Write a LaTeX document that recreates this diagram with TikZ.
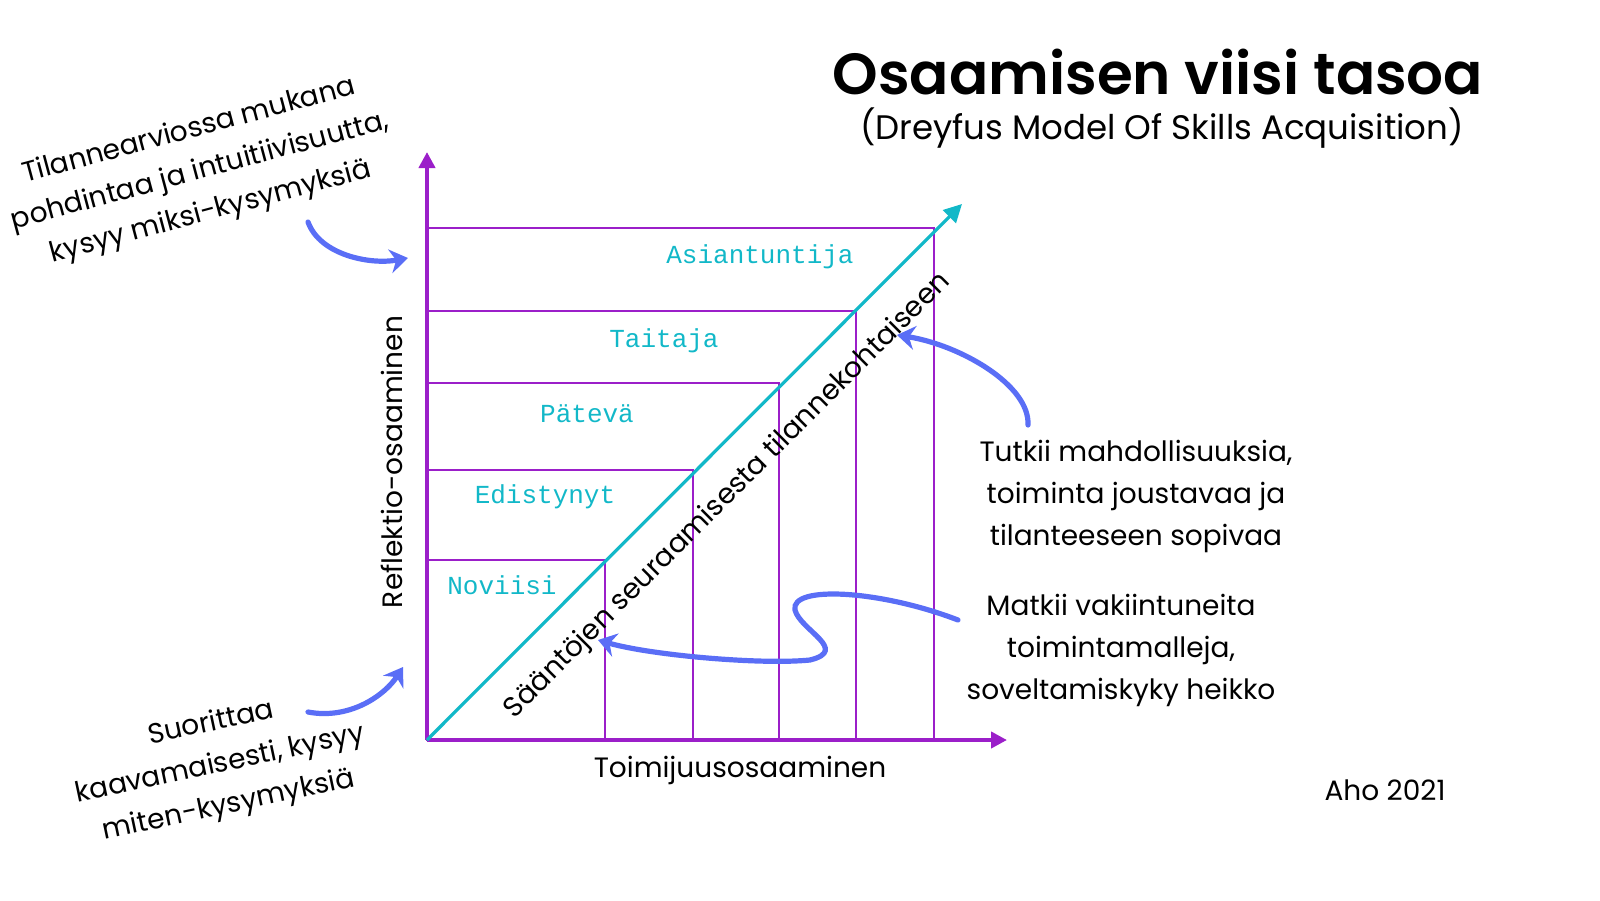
\documentclass[tikz,border=0pt]{standalone}
\usepackage{fontspec}
\setmainfont{Poppins}
\newfontfamily\monof{Liberation Mono}
\newfontfamily\titlef{Poppins SemiBold}
\usetikzlibrary{arrows.meta}
\definecolor{pur}{HTML}{9B1FC9}
\definecolor{cy}{HTML}{12B8C8}
\definecolor{bl}{HTML}{5A6EF6}
\begin{document}
\begin{tikzpicture}[x=0.5pt,y=-0.5pt,
  lvl/.style={draw=pur,line width=0.6pt},
  lbl/.style={text=cy,font=\monof\fontsize{13}{15}\selectfont},
  txt/.style={font=\fontsize{14}{21}\selectfont,align=center},
  barrow/.style={draw=bl,line width=2.6pt,line cap=round,-{Stealth[length=9pt,width=12pt,inset=3pt]}}]
\useasboundingbox (0,0) rectangle (1600,900);
\node[font=\titlef\fontsize{29}{34}\selectfont] (title) at (1158,72) {Osaamisen viisi tasoa};
\node[font=\fontsize{17}{20}\selectfont] (sub) at (1162,128) {(Dreyfus Model Of Skills Acquisition)};
% boxes
\draw[lvl] (427,560) rectangle (605,740);
\draw[lvl] (427,470) rectangle (693,740);
\draw[lvl] (427,383) rectangle (779,740);
\draw[lvl] (427,311) rectangle (856,740);
\draw[lvl] (427,228) rectangle (934,740);
\node[lbl] (n1) at (502,585) {Noviisi};
\node[lbl] (n2) at (545,497) {Edistynyt};
\node[lbl] (n3) at (587,414) {Pätevä};
\node[lbl] (n4) at (664,341) {Taitaja};
\node[lbl] (n5) at (760,257) {Asiantuntija};
% axes
\coordinate (o) at (427,740);
\coordinate (ytop) at (427,152);
\coordinate (xend) at (1007,740);
\draw[pur,line width=2pt,-{Triangle[length=8pt,width=8pt]}] (o) -- (ytop);
\draw[pur,line width=2pt,-{Triangle[length=8pt,width=8pt]}] (o) -- (xend);
\node[txt,rotate=90] (ylab) at (392,462) {Reflektio-osaaminen};
\node[txt] (xlab) at (740,770) {Toimijuusosaaminen};
% diagonal
\coordinate (dtop) at (962,204);
\draw[cy,line width=1.6pt,-{Triangle[length=9pt,width=9pt]}] (o) -- (dtop);
\node[txt,rotate=45] (dlab) at (728,496) {Sääntöjen seuraamisesta tilannekohtaiseen};
% texts
\node[txt,rotate=15] (t1) at (200,172) {Tilannearviossa mukana\\pohdintaa ja intuitiivisuutta,\\kysyy miksi-kysymyksiä};
\node[txt,rotate=12] (t2) at (220,765) {Suorittaa\\kaavamaisesti, kysyy\\miten-kysymyksiä};
\node[txt] (t3) at (1136,496) {Tutkii mahdollisuuksia,\\toiminta joustavaa ja\\tilanteeseen sopivaa};
\node[txt] (t4) at (1121,650) {Matkii vakiintuneita\\toimintamalleja,\\soveltamiskyky heikko};
\node[txt] (aho) at (1385,790) {Aho 2021};
% arrows
\coordinate (a1s) at (308,222); \coordinate (a1e) at (408,258);
\draw[barrow] (a1s) .. controls (320,255) and (370,265) .. (a1e);
\coordinate (a2s) at (308,712); \coordinate (a2e) at (403,667);
\draw[barrow] (a2s) .. controls (350,720) and (385,695) .. (a2e);
\coordinate (a3s) at (1028,425); \coordinate (a3e) at (897,335);
\draw[barrow] (a3s) .. controls (1030,385) and (960,345) .. (a3e);
\coordinate (a4s) at (958,620); \coordinate (a4e) at (598,640);
\draw[barrow] (a4s) .. controls (880,590) and (790,585) .. (795,610)
  .. controls (800,630) and (850,650) .. (810,660)
  .. controls (760,665) and (650,655) .. (a4e);
\end{tikzpicture}
\end{document}
